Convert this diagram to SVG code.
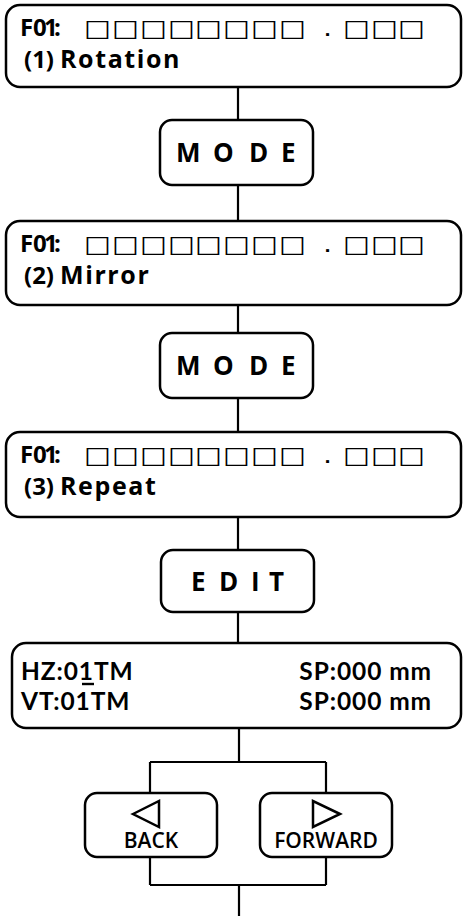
<svg xmlns="http://www.w3.org/2000/svg" width="463" height="916" viewBox="0 0 463 916">
<style>
.box{fill:#fff;stroke:#000;stroke-width:2.5}
.ln{fill:none;stroke:#000;stroke-width:2.2}
.t{font-family:"Open Sans","DejaVu Sans",sans-serif;fill:#000}
.b{font-weight:700;font-size:24px}
.lbl{font-weight:700;font-size:24px}
.lbl .w{font-size:25px;letter-spacing:1.6px}
.sq{font-family:"DejaVu Sans",sans-serif;font-size:23px;font-weight:700;fill:#000}
.dot{font-weight:400}
.key{font-weight:700;font-size:26px}
.lcd{font-family:Lato,"Open Sans",sans-serif;font-weight:700;font-size:24.5px;letter-spacing:0.9px;fill:#000}
.nav{font-weight:600;font-size:21px;text-anchor:middle}
.tri{fill:#fff;stroke:#000;stroke-width:2.5;stroke-linejoin:miter}
</style>
<rect width="463" height="916" fill="#fff"/>
<g id="connectors">
<path class="ln" d="M238 87V120M238 185V221M238 305V333M238 398V432M238 517V550M238 612V643M239 728V762M150 762H326M150 762V793M326 762V793M150 857V885M326 857V885M150 885H326M239 885V916"/>
</g>
<g id="screen1">
<rect class="box" x="6" y="5" width="455" height="82" rx="14"/>
<text class="t b" y="36" x="20 33 44 54">F01:</text>
<text class="sq" transform="translate(0,36) scale(1.25,1)" x="67.3 89.7 112.1 134.5 156.1 178.5 200.9 223.3 258.4 274.5 296.9 318.5">□□□□□□□□<tspan class="dot">.</tspan>□□□</text>
<text class="t lbl" y="68"><tspan x="24">(1) </tspan><tspan class="w" x="60">Rotation</tspan></text>
</g>
<g id="mode1">
<rect class="box" x="160" y="120" width="153" height="65" rx="12"/>
<text class="t key" y="162" x="176 213 249 281">MODE</text>
</g>
<g id="screen2">
<rect class="box" x="6" y="221" width="455" height="84" rx="14"/>
<text class="t b" y="252" x="20 33 44 54">F01:</text>
<text class="sq" transform="translate(0,252) scale(1.25,1)" x="67.3 89.7 112.1 134.5 156.1 178.5 200.9 223.3 258.4 274.5 296.9 318.5">□□□□□□□□<tspan class="dot">.</tspan>□□□</text>
<text class="t lbl" y="284"><tspan x="24">(2) </tspan><tspan class="w" x="60">Mirror</tspan></text>
</g>
<g id="mode2">
<rect class="box" x="160" y="333" width="153" height="65" rx="12"/>
<text class="t key" y="375" x="176 213 249 281">MODE</text>
</g>
<g id="screen3">
<rect class="box" x="6" y="432" width="455" height="85" rx="14"/>
<text class="t b" y="463" x="20 33 44 54">F01:</text>
<text class="sq" transform="translate(0,463) scale(1.25,1)" x="67.3 89.7 112.1 134.5 156.1 178.5 200.9 223.3 258.4 274.5 296.9 318.5">□□□□□□□□<tspan class="dot">.</tspan>□□□</text>
<text class="t lbl" y="495"><tspan x="24">(3) </tspan><tspan class="w" x="60">Repeat</tspan></text>
</g>
<g id="edit">
<rect class="box" x="161" y="550" width="153" height="62" rx="12"/>
<text class="t key" y="591" x="191 219 251 269">EDIT</text>
</g>
<g id="screen4">
<rect class="box" x="12" y="643" width="449" height="85" rx="14"/>
<text class="lcd"><tspan x="21" y="680">HZ:01TM</tspan><tspan x="21" y="710">VT:01TM</tspan></text>
<text class="lcd" text-anchor="end"><tspan x="432" y="680">SP:000 mm</tspan><tspan x="432" y="710">SP:000 mm</tspan></text>
<line x1="82" y1="684" x2="94" y2="684" stroke="#000" stroke-width="2.4"/>
</g>
<g id="back">
<rect class="box" x="85" y="793" width="132" height="64" rx="12"/>
<polygon class="tri" points="133,814 159,801 159,827"/>
<text class="t nav" x="151" y="848">BACK</text>
</g>
<g id="forward">
<rect class="box" x="260" y="793" width="132" height="64" rx="12"/>
<polygon class="tri" points="340,814 313,801 313,827"/>
<text class="t nav" x="326" y="848">FORWARD</text>
</g>
</svg>
